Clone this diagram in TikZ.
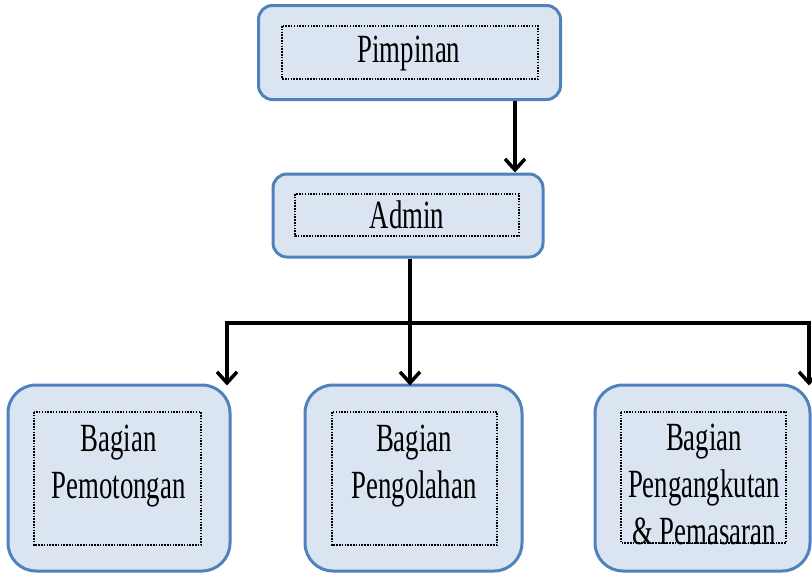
\documentclass[tikz,border=0pt]{standalone}
\usepackage{fontspec}
\setmainfont[FakeStretch=0.67]{Liberation Serif}
\usetikzlibrary{arrows.meta}
\definecolor{boxline}{RGB}{79,129,189}
\definecolor{boxfill}{RGB}{219,229,241}
\tikzset{
  outerbox/.style={draw=boxline, fill=boxfill, line width=3pt, inner sep=0pt},
  dotbox/.style={draw=black, line width=1.5pt, dash pattern=on 1.5pt off 1.3pt},
  lbl/.style={font=\fontsize{40}{47}\selectfont, text=black, inner sep=0pt, align=center, anchor=base},
  conn/.style={draw=black, line width=3.5pt, line join=miter},
  arr/.style={conn, -{Straight Barb[length=11pt,width=20pt,line width=3.5pt]}},
  arrboth/.style={conn, {Straight Barb[length=11pt,width=20pt,line width=3.5pt]}-{Straight Barb[length=11pt,width=20pt,line width=3.5pt]}}
}
\begin{document}
\begin{tikzpicture}[x=1pt,y=-1pt]
\useasboundingbox (0,0) rectangle (812,573);
% boxes
\node[outerbox, rounded corners=14pt, minimum width=302pt, minimum height=94pt] (pim) at (409.5,52.5) {};
\node[outerbox, rounded corners=14pt, minimum width=270pt, minimum height=83pt] (adm) at (408,215.5) {};
\node[outerbox, rounded corners=28pt, minimum width=222pt, minimum height=186pt] (b1) at (119,478) {};
\node[outerbox, rounded corners=28pt, minimum width=217pt, minimum height=186pt] (b2) at (413.5,478) {};
\node[outerbox, rounded corners=28pt, minimum width=215pt, minimum height=186pt] (b3) at (702.5,478) {};
% inner dotted frames
\draw[dotbox] (282,26) rectangle (538,79);
\draw[dotbox] (295,194) rectangle (519,236);
\draw[dotbox] (34,412) rectangle (201,545);
\draw[dotbox] (332,412) rectangle (497,545);
% labels (base anchor = baseline of last line)
\node[lbl] (pimT) at (409,62) {Pimpinan};
\node[lbl] (admT) at (407,228) {Admin};
\node[lbl] (b1T) at (118.5,498) {Bagian\\Pemotongan};
\node[lbl] (b2T) at (414,498) {Bagian\\Pengolahan};
\node[lbl] (b3T) at (704,544) {Bagian\\Pengangkutan\\\&~Pemasaran};
\draw[dotbox] (621,412) rectangle (786,543);
% connectors
\coordinate (ax) at (515,0);
\coordinate (busL) at (227,323);
\coordinate (busR) at (809,323);
\draw[arr] (pim.south -| ax) -- (adm.north -| ax);
\draw[arrboth] ([yshift=-2pt]busL |- b1.north) -- (busL) -- (busR) -- ([yshift=-2pt]busR |- b3.north);
\draw[arr] ([xshift=2pt]adm.south) -- ([xshift=2pt,yshift=-2pt]adm.south |- b2.north);
\end{tikzpicture}
\end{document}
